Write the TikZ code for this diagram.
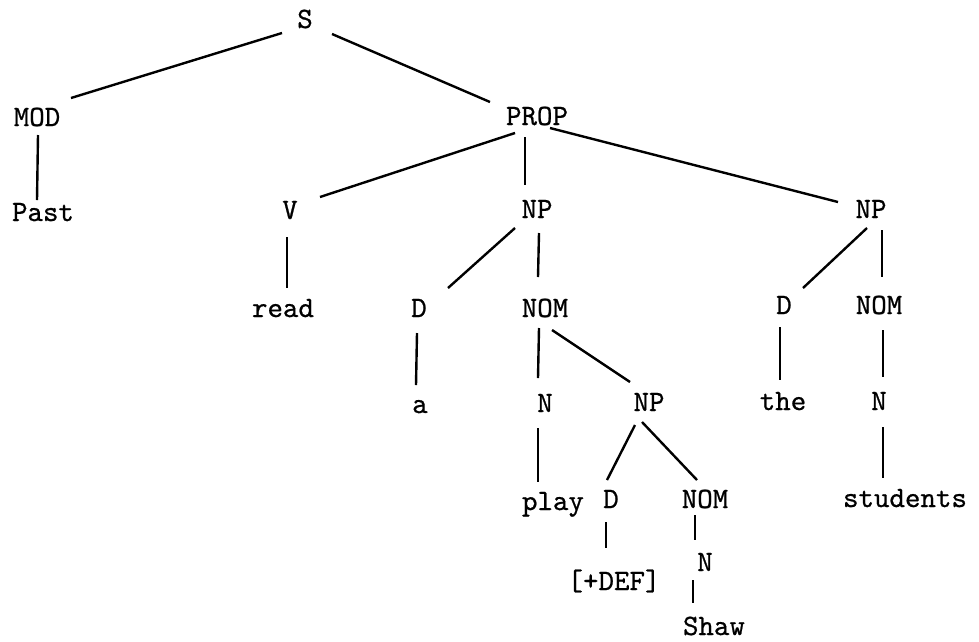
\documentclass[tikz,border=0pt]{standalone}
\usepackage{fontspec}
% typewriter face, slightly thickened
\newfontfamily\twfont{lmmono10-regular.otf}[FakeBold=0.7]
\begin{document}
\begin{tikzpicture}[x=1pt,y=-1pt,
  lbl/.style={anchor=base,inner sep=0pt,font=\fontsize{29.5}{30}\twfont},
  branch/.style={line width=2.4pt,black}]
\fill[white] (0,0) rectangle (979,641);
\useasboundingbox (0,0) rectangle (979,641);

% categories and words, placed on their baselines
\node[lbl] (S)     at (305,28)  {S};
\node[lbl] (MOD)   at (37,126)  {MOD};
\node[lbl] (Past)  at (43,221)  {Past};
\node[lbl] (PROP)  at (537,125) {PROP};
\node[lbl] (V)     at (290,219) {V};
\node[lbl] (NPa)   at (537,218) {NP};
\node[lbl] (NPb)   at (871,218) {NP};
\node[lbl] (read)  at (283,317) {read};
\node[lbl] (Da)    at (419,317) {D};
\node[lbl] (NOMa)  at (545,317) {NOM};
\node[lbl] (a)     at (420,413) {a};
\node[lbl] (Na)    at (545,412) {N};
\node[lbl] (NPc)   at (649,411) {NP};
\node[lbl] (play)  at (553,510) {play};
\node[lbl] (Dc)    at (611,508) {D};
\node[lbl] (NOMc)  at (705,508) {NOM};
\node[lbl] (DEF)   at (614,590) {[+DEF]};
\node[lbl] (Nc)    at (705,571) {N};
\node[lbl] (Shaw)  at (714,635) {Shaw};
\node[lbl] (Db)    at (784,314) {D};
\node[lbl] (NOMb)  at (879,314) {NOM};
\node[lbl] (the)   at (783,410) {the};
\node[lbl] (Nb)    at (879,410) {N};
\node[lbl] (stud)  at (905,507) {students};

% branches
\draw[branch] ([shift={(-23,5)}]S.base)    -- ([shift={(34,-28)}]MOD.base);
\draw[branch] ([shift={(27,6)}]S.base)     -- ([shift={(-47,-23)}]PROP.base);
\draw[branch] ([shift={(1,9)}]MOD.base)    -- ([shift={(-6,-21)}]Past.base);
\draw[branch] ([shift={(-22,8)}]PROP.base) -- ([shift={(30,-22)}]V.base);
\draw[branch] ([shift={(-12,12)}]PROP.base) -- ([shift={(-12,-33)}]NPa.base);
\draw[branch] ([shift={(13,3)}]PROP.base)  -- ([shift={(-33,-16)}]NPb.base);
\draw[branch] ([shift={(-3,18)}]V.base)    -- ([shift={(4,-29)}]read.base);
\draw[branch] ([shift={(-22,10)}]NPa.base) -- ([shift={(29,-29)}]Da.base);
\draw[branch] ([shift={(2,15)}]NPa.base)   -- ([shift={(-7,-40)}]NOMa.base);
\draw[branch] ([shift={(-2,16)}]Da.base)   -- ([shift={(-4,-28)}]a.base);
\draw[branch] ([shift={(-6,11)}]NOMa.base) -- ([shift={(-7,-34)}]Na.base);
\draw[branch] ([shift={(7,13)}]NOMa.base)  -- ([shift={(-19,-29)}]NPc.base);
\draw[branch] ([shift={(-7,16)}]Na.base)   -- ([shift={(-15,-28)}]play.base);
\draw[branch] ([shift={(-14,14)}]NPc.base) -- ([shift={(-4,-28)}]Dc.base);
\draw[branch] ([shift={(-7,11)}]NPc.base)  -- ([shift={(-8,-28)}]NOMc.base);
\draw[branch] ([shift={(-5,14)}]Dc.base)   -- ([shift={(-8,-42)}]DEF.base);
\draw[branch] ([shift={(-10,7)}]NOMc.base) -- ([shift={(-10,-31)}]Nc.base);
\draw[branch] ([shift={(-12,9)}]Nc.base)   -- ([shift={(-21,-32)}]Shaw.base);
\draw[branch] ([shift={(-4,10)}]NPb.base)  -- ([shift={(19,-26)}]Db.base);
\draw[branch] ([shift={(11,12)}]NPb.base)  -- ([shift={(3,-37)}]NOMb.base);
\draw[branch] ([shift={(-4,13)}]Db.base)   -- ([shift={(-3,-30)}]the.base);
\draw[branch] ([shift={(4,16)}]NOMb.base)  -- ([shift={(4,-33)}]Nb.base);
\draw[branch] ([shift={(4,17)}]Nb.base)    -- ([shift={(-22,-29)}]stud.base);
\end{tikzpicture}
\end{document}
